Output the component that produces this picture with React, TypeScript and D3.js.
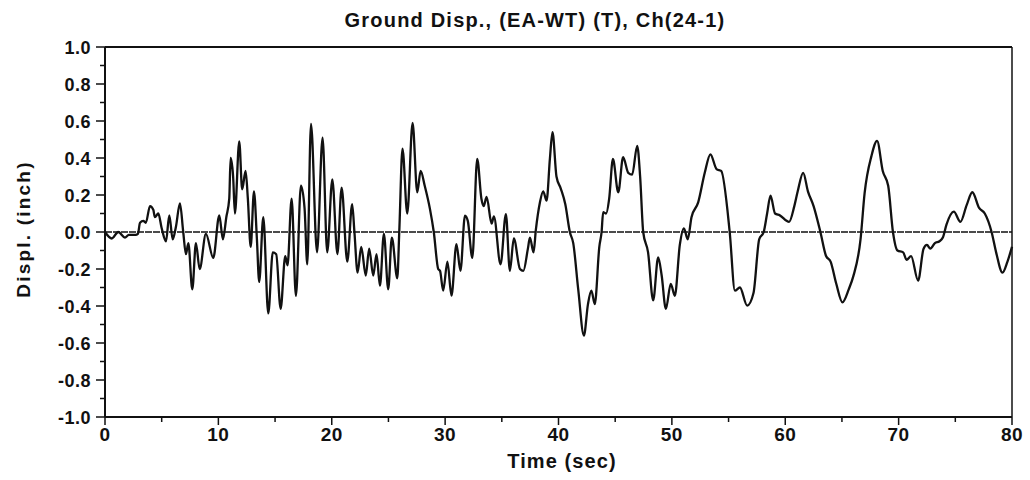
import React from "react";
import * as d3 from "d3";

const title = "Ground Disp., (EA-WT) (T), Ch(24-1)";
const xLabel = "Time (sec)";
const yLabel = "Displ. (inch)";
const xTicks = [0, 10, 20, 30, 40, 50, 60, 70, 80];
const yTicks = [-1.0, -0.8, -0.6, -0.4, -0.2, 0.0, 0.2, 0.4, 0.6, 0.8, 1.0];

const times = [
  0, 0.6, 1.17, 1.76, 2.1, 2.7, 2.9, 3.09, 3.38, 3.6, 3.97, 4.26, 4.4, 4.7, 5.0, 5.38, 5.67, 5.97, 6.26, 6.61,
  6.9, 7.14, 7.35, 7.7, 8.02, 8.35, 8.9, 9.55, 10.08, 10.4, 10.7, 10.96, 11.08, 11.3, 11.46, 11.84, 12.1, 12.4, 12.6, 12.85,
  13.14, 13.4, 13.6, 13.96, 14.4, 14.8, 15.1, 15.49, 15.9, 16.1, 16.46, 16.84, 17.28, 17.6, 17.84, 18.17, 18.7, 19.19, 19.6, 20.05,
  20.5, 20.87, 21.37, 21.8, 22.0, 22.28, 22.6, 23.0, 23.3, 23.66, 23.95, 24.25, 24.6, 24.98, 25.3, 25.78, 25.96, 26.24, 26.66, 27.13,
  27.54, 27.84, 28.2, 28.66, 29.0, 29.39, 29.55, 29.83, 30.2, 30.56, 31.0, 31.35, 31.75, 32.0, 32.4, 32.83, 33.2, 33.4, 33.66, 34.1,
  34.3, 34.89, 35.36, 35.71, 36.06, 36.6, 36.9, 37.3, 37.48, 37.8, 38.0, 38.36, 38.65, 38.95, 39.24, 39.47, 39.82, 40.2, 40.6, 41.0,
  41.3, 41.74, 42.24, 42.6, 42.9, 43.2, 43.6, 43.8, 43.94, 44.2, 44.47, 44.8, 45.27, 45.7, 46.15, 46.5, 46.94, 47.2, 47.47, 47.9,
  48.35, 48.79, 49.1, 49.47, 49.9, 50.26, 50.7, 51.06, 51.4, 51.73, 52.32, 52.9, 53.4, 53.94, 54.35, 55.1, 55.56, 56.0, 56.64, 57.2,
  57.7, 58.1, 58.4, 58.7, 59.1, 59.52, 60.34, 60.8, 61.1, 61.58, 62.0, 62.5, 63.1, 63.6, 64.0, 64.5, 65.04, 65.6, 66.0, 66.64,
  67.0, 67.6, 68.1, 68.6, 69.08, 69.5, 69.9, 70.4, 70.7, 71.1, 71.72, 72.2, 72.5, 72.8, 73.2, 73.6, 73.9, 74.22, 74.87, 75.45,
  76.0, 76.5, 77.1, 77.6, 78.2, 78.6, 79.16, 79.6, 80.0,
];

const displ = [
  0, -0.035, 0, -0.03, -0.015, -0.015, -0.01, 0.05, 0.06, 0.05, 0.14, 0.12, 0.08, 0.1, 0.02, -0.05, 0.09, -0.04, 0.03, 0.155,
  0, -0.12, -0.06, -0.31, -0.06, -0.2, -0.01, -0.14, 0.09, -0.04, 0.08, 0.18, 0.4, 0.3, 0.1, 0.49, 0.23, 0.33, 0.18, -0.08,
  0.22, -0.04, -0.27, 0.08, -0.44, -0.11, -0.12, -0.415, -0.13, -0.18, 0.18, -0.345, 0.25, 0.13, -0.175, 0.584, -0.11, 0.51, -0.11, 0.285,
  -0.12, 0.24, -0.16, 0.15, 0.0, -0.22, -0.08, -0.235, -0.09, -0.235, -0.12, -0.29, -0.01, -0.31, -0.03, -0.25, 0.01, 0.45, 0.1, 0.59,
  0.215, 0.33, 0.25, 0.125, 0, -0.2, -0.21, -0.317, -0.16, -0.344, -0.065, -0.21, 0.088, 0.06, -0.14, 0.395, 0.18, 0.14, 0.19, 0.045,
  0.085, -0.175, 0.097, -0.21, -0.035, -0.2, -0.21, -0.09, -0.03, -0.11, 0.01, 0.16, 0.22, 0.17, 0.395, 0.54, 0.3, 0.235, 0.15, 0,
  -0.06, -0.31, -0.56, -0.39, -0.317, -0.39, -0.08, 0, 0.107, 0.1, 0.18, 0.395, 0.215, 0.404, 0.32, 0.31, 0.466, 0.3, 0, -0.11,
  -0.37, -0.137, -0.235, -0.416, -0.28, -0.345, -0.07, 0.02, -0.04, 0.08, 0.16, 0.32, 0.42, 0.34, 0.33, 0, -0.317, -0.3, -0.398, -0.33,
  -0.04, 0, 0.1, 0.196, 0.1, 0.09, 0.055, 0.14, 0.22, 0.32, 0.22, 0.14, 0, -0.13, -0.16, -0.28, -0.38, -0.31, -0.24, -0.04,
  0.21, 0.41, 0.493, 0.33, 0.25, 0, -0.1, -0.11, -0.15, -0.13, -0.263, -0.09, -0.07, -0.09, -0.06, -0.05, -0.03, 0.04, 0.11, 0.055,
  0.145, 0.215, 0.13, 0.1, 0, -0.11, -0.22, -0.16, -0.08,
];

const W = 1030;
const H = 480;
const left = 105;
const right = 1012;
const top = 47;
const bottom = 417;
const font = "'Liberation Sans', Arial, Helvetica, sans-serif";

export default function App() {
  const x = d3.scaleLinear().domain([0, 80]).range([left, right]);
  const y = d3.scaleLinear().domain([-1, 1]).range([bottom, top]);
  const pts: [number, number][] = times.map((t, i) => [t, displ[i]]);
  const line = d3
    .line<[number, number]>()
    .x((d) => x(d[0]))
    .y((d) => y(d[1]))
    .curve(d3.curveMonotoneX);

  const xMinor = d3.range(5, 80, 10);
  const yMinor = d3.range(-9, 10, 2).map((v) => v / 10);

  return (
    <svg
      width={W}
      height={H}
      style={{ position: "absolute", left: 0, top: 0, background: "#fff" }}
      fontFamily={font}
    >
      <rect x={0} y={0} width={W} height={H} fill="#fff" />
      <text x={535} y={27} textAnchor="middle" fontSize={20} fontWeight="bold" letterSpacing={1.2} fill="#111">
        {title}
      </text>
      {/* zero line */}
      <line x1={left} x2={right} y1={y(0)} y2={y(0)} stroke="#111" strokeWidth={1.3} strokeDasharray="7,1" />
      {/* frame */}
      <line x1={left} x2={right} y1={top} y2={top} stroke="#111" strokeWidth={2} />
      <line x1={right} x2={right} y1={top} y2={bottom} stroke="#111" strokeWidth={1.5} />
      <line x1={left} x2={right} y1={bottom} y2={bottom} stroke="#111" strokeWidth={2} />
      <line x1={left} x2={left} y1={top} y2={bottom} stroke="#111" strokeWidth={2} />
      {/* y ticks */}
      {yTicks.map((v) => (
        <g key={"y" + v}>
          <line x1={left - 9} x2={left} y1={y(v)} y2={y(v)} stroke="#111" strokeWidth={1.5} />
          <text x={left - 14} y={y(v) + 7} textAnchor="end" fontSize={18} fontWeight="bold" letterSpacing={0.5} fill="#111">
            {v.toFixed(1)}
          </text>
        </g>
      ))}
      {yMinor.map((v) => (
        <line key={"ym" + v} x1={left - 5} x2={left} y1={y(v)} y2={y(v)} stroke="#111" strokeWidth={1.5} />
      ))}
      {/* x ticks */}
      {xTicks.map((v) => (
        <g key={"x" + v}>
          <line x1={x(v)} x2={x(v)} y1={bottom} y2={bottom + 8} stroke="#111" strokeWidth={1.5} />
          <text x={x(v)} y={bottom + 24} textAnchor="middle" fontSize={19} fontWeight="bold" letterSpacing={0.5} fill="#111">
            {v}
          </text>
        </g>
      ))}
      {xMinor.map((v) => (
        <line key={"xm" + v} x1={x(v)} x2={x(v)} y1={bottom} y2={bottom + 5} stroke="#111" strokeWidth={1.5} />
      ))}
      <text x={562} y={468} textAnchor="middle" fontSize={20} fontWeight="bold" letterSpacing={1.1} fill="#111">
        {xLabel}
      </text>
      <text
        transform={`translate(30,229) rotate(-90)`}
        textAnchor="middle"
        fontSize={19}
        fontWeight="bold"
        letterSpacing={2.2}
        fill="#111"
      >
        {yLabel}
      </text>
      <path d={line(pts) || ""} fill="none" stroke="#111" strokeWidth={2.3} strokeLinejoin="round" />
    </svg>
  );
}
